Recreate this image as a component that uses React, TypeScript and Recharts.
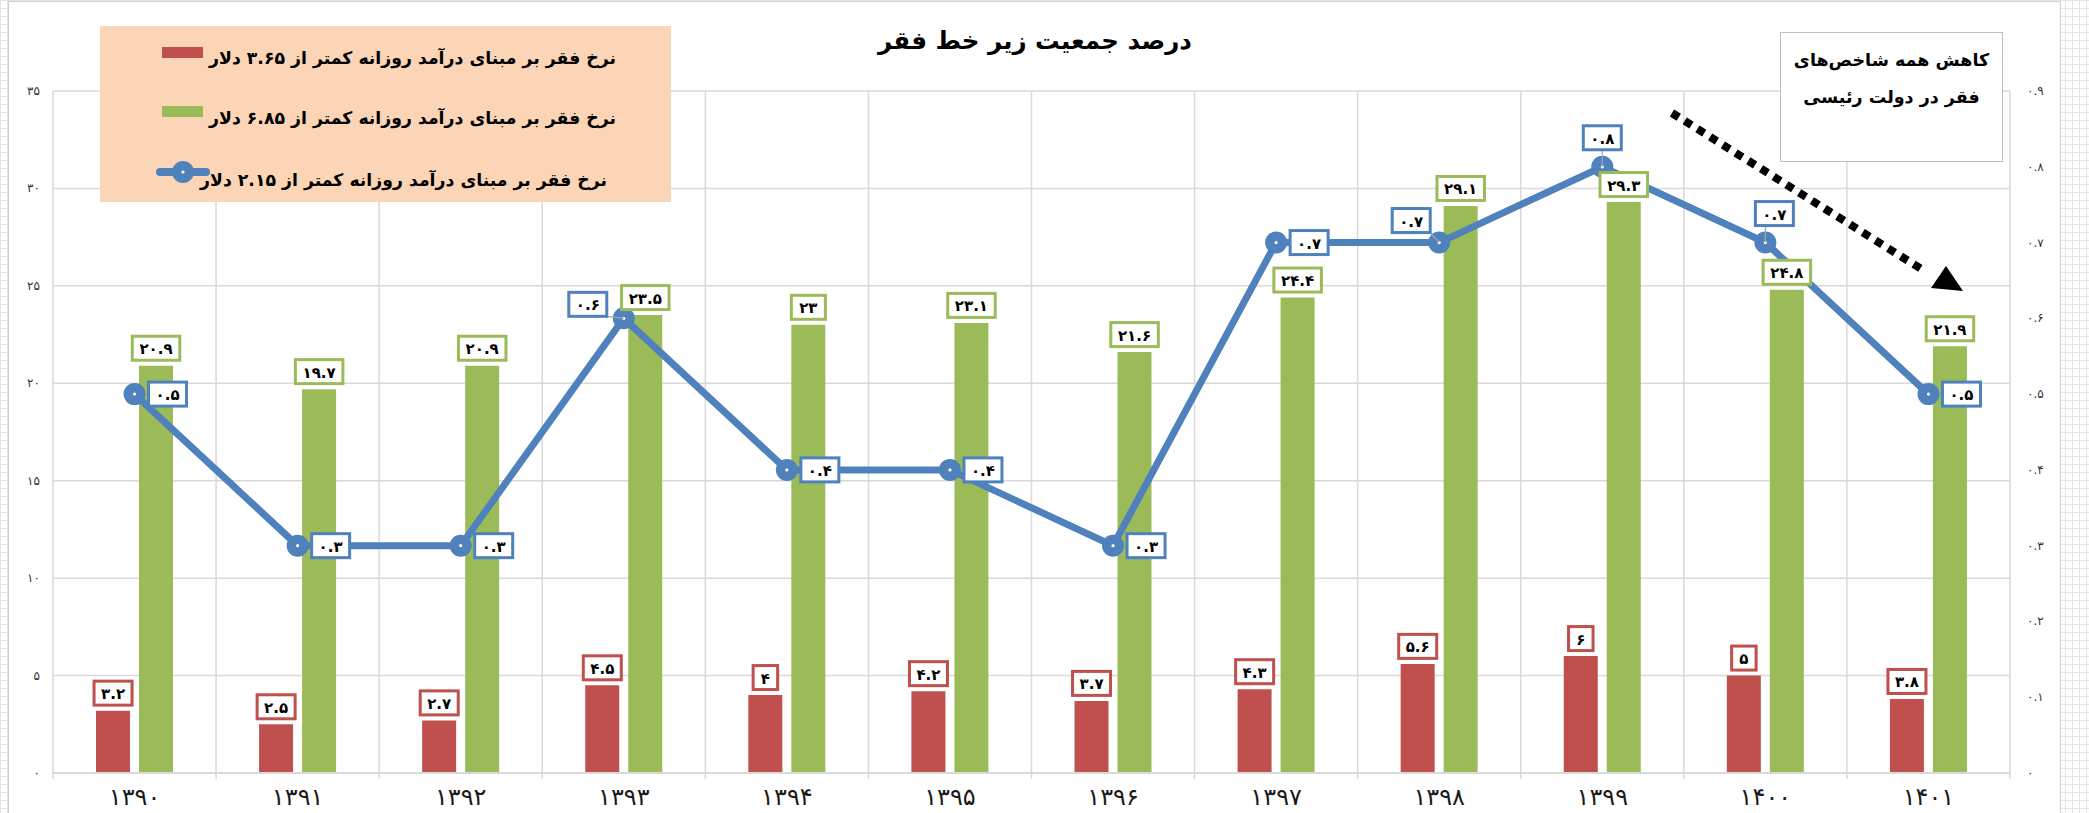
import React from 'react'
import {
  ComposedChart,
  Bar,
  Line,
  Scatter,
  XAxis,
  YAxis,
  CartesianGrid,
  LabelList,
} from 'recharts'

// values
const years = ['1390', '1391', '1392', '1393', '1394', '1395', '1396', '1397', '1398', '1399', '1400', '1401']
const rate365 = [3.2, 2.5, 2.7, 4.5, 4, 4.2, 3.7, 4.3, 5.6, 6, 5, 3.8]
const rate685 = [20.9, 19.7, 20.9, 23.5, 23, 23.1, 21.6, 24.4, 29.1, 29.3, 24.8, 21.9]
const rate215 = [0.5, 0.3, 0.3, 0.6, 0.4, 0.4, 0.3, 0.7, 0.7, 0.8, 0.7, 0.5]
const leftTicks = [0, 5, 10, 15, 20, 25, 30, 35]
const rightTicks = [0, 0.1, 0.2, 0.3, 0.4, 0.5, 0.6, 0.7, 0.8, 0.9]

const chartTitle = 'درصد جمعیت زیر خط فقر'
const legendLabels = [
  'نرخ فقر بر مبنای درآمد روزانه کمتر از ۳.۶۵ دلار',
  'نرخ فقر بر مبنای درآمد روزانه کمتر از ۶.۸۵ دلار',
  'نرخ فقر بر مبنای درآمد روزانه کمتر از ۲.۱۵ دلار',
]
const noteLines = ['کاهش همه شاخص‌های', 'فقر در دولت رئیسی']

const RED = '#C0504D'
const GREEN = '#9BBB59'
const BLUE = '#4F81BD'
const GRID = '#d9d9d9'
const FONT = '"DejaVu Sans", sans-serif'

const chartW = 2053
const chartH = 812
const leftAxisW = 45
const rightAxisW = 51
const xAxisH = 40
const plotTop = 90
const plotBottom = chartH - xAxisH
const band = (chartW - leftAxisW - rightAxisW) / years.length
const barSize = 34
const barGap = 9
const barShift = (barSize + barGap) / 2

// where the blue tags sit when not simply right of the point
const blueTagShift: Record<number, [number, number]> = {
  3: [-36, -14],
  8: [-28, -22],
  9: [0, -29],
  10: [9, -29],
}

const data = years.map((year, i) => ({
  year,
  r365: rate365[i],
  r685: rate685[i],
  r215: rate215[i],
}))

function fa(v: number | string): string {
  return String(v).replace(/\d/g, (d) => '۰۱۲۳۴۵۶۷۸۹'[Number(d)])
}

function tagWidth(text: string): number {
  const digits = text.replace(/[^۰-۹]/g, '').length
  const dots = text.length - digits
  return digits * 9.5 + dots * 4 + 15
}

function Tag({ cx, cy, text, color }: { cx: number; cy: number; text: string; color: string }) {
  const w = tagWidth(text)
  const h = 24
  return (
    <g>
      <rect x={cx - w / 2} y={cy - h / 2} width={w} height={h} fill="#fff" stroke={color} strokeWidth={3} />
      <text
        x={cx}
        y={cy + 1}
        textAnchor="middle"
        dominantBaseline="central"
        fontFamily={FONT}
        fontWeight="bold"
        fontSize={15}
        fill="#000"
      >
        {text}
      </text>
    </g>
  )
}

function barTag(color: string, shift: number, key: 'r365' | 'r685') {
  return (props: any) => {
    const { cx, cy, payload } = props
    if (cx == null || cy == null) return <g />
    return <Tag cx={cx + shift} cy={cy - 4 - 1.5 - 12} text={fa(payload[key])} color={color} />
  }
}

function BlueTag(props: any) {
  const { x, y, value, index } = props
  if (x == null || y == null) return null
  const shift = blueTagShift[index]
  if (!shift) return <Tag cx={x + 33} cy={y} text={fa(value)} color={BLUE} />
  const text = fa(value)
  const w = tagWidth(text)
  const bx = x + shift[0]
  const by = y + shift[1]
  const nx = Math.min(Math.max(x, bx - w / 2), bx + w / 2)
  const ny = Math.min(Math.max(y, by - 12), by + 12)
  return (
    <g>
      <line x1={nx} y1={ny} x2={x} y2={y} stroke="#a6a6a6" strokeWidth={1.2} />
      <Tag cx={bx} cy={by} text={text} color={BLUE} />
    </g>
  )
}

function BlueDot(props: any) {
  const { cx, cy, index } = props
  return (
    <g key={`dot-${index}`}>
      <circle cx={cx} cy={cy} r={11} fill={BLUE} />
      <circle cx={cx} cy={cy} r={1.6} fill="#fff" />
    </g>
  )
}

function YearTick(props: any) {
  const { x, payload, index } = props
  return (
    <g>
      <line x1={x - band / 2} y1={plotBottom} x2={x - band / 2} y2={plotBottom + 6} stroke={GRID} strokeWidth={1.5} />
      {index === years.length - 1 && (
        <line x1={x + band / 2} y1={plotBottom} x2={x + band / 2} y2={plotBottom + 6} stroke={GRID} strokeWidth={1.5} />
      )}
      <text
        x={x}
        y={plotBottom + 24}
        textAnchor="middle"
        dominantBaseline="central"
        fontFamily={FONT}
        fontSize={24}
        fill="#1a1a1a"
      >
        {fa(payload.value)}
      </text>
    </g>
  )
}

function LeftTick(props: any) {
  const { y, payload } = props
  return (
    <text x={32} y={y} textAnchor="end" dominantBaseline="central" fontFamily={FONT} fontSize={12} fill="#333">
      {fa(payload.value)}
    </text>
  )
}

function RightTick(props: any) {
  const { y, payload } = props
  return (
    <text x={chartW - rightAxisW + 17} y={y} textAnchor="start" dominantBaseline="central" fontFamily={FONT} fontSize={12} fill="#333">
      {fa(payload.value)}
    </text>
  )
}

function LegendBox() {
  const text: React.CSSProperties = {
    position: 'absolute',
    height: 30,
    lineHeight: '30px',
    fontFamily: FONT,
    fontWeight: 'bold',
    fontSize: 17.3,
    whiteSpace: 'nowrap',
    color: '#000',
  }
  return (
    <div style={{ position: 'absolute', left: 100, top: 26, width: 571, height: 176, background: '#FBD5B5' }}>
      <div style={{ position: 'absolute', left: 62, top: 21, width: 41, height: 11, background: RED }} />
      <div dir="rtl" style={{ ...text, right: 55, top: 17 }}>{legendLabels[0]}</div>
      <div style={{ position: 'absolute', left: 62, top: 80, width: 41, height: 11, background: GREEN }} />
      <div dir="rtl" style={{ ...text, right: 55, top: 77 }}>{legendLabels[1]}</div>
      <svg style={{ position: 'absolute', left: 56, top: 134 }} width={54} height={24}>
        <line x1={4} y1={12} x2={50} y2={12} stroke={BLUE} strokeWidth={8} strokeLinecap="round" />
        <circle cx={27} cy={12} r={11} fill={BLUE} />
        <circle cx={27} cy={12} r={1.6} fill="#fff" />
      </svg>
      <div dir="rtl" style={{ ...text, right: 64, top: 139 }}>{legendLabels[2]}</div>
    </div>
  )
}

export default function App() {
  return (
    <div
      style={{
        position: 'absolute',
        left: 0,
        top: 0,
        width: 2089,
        height: 813,
        overflow: 'hidden',
        backgroundColor: '#fff',
        backgroundImage:
          'linear-gradient(#e4e4e4 1px, transparent 1px), linear-gradient(90deg, #e4e4e4 1px, transparent 1px)',
        backgroundSize: '7px 8px',
      }}
    >
      <div
        style={{
          position: 'absolute',
          left: 8,
          top: 1,
          width: chartW,
          height: chartH + 10,
          background: '#fff',
          border: '1px solid #d0d0d0',
          boxSizing: 'border-box',
        }}
      />
      <div style={{ position: 'absolute', left: 8, top: 1 }}>
        <ComposedChart
          width={chartW}
          height={chartH}
          data={data}
          margin={{ top: plotTop, right: 0, bottom: 0, left: 0 }}
          barSize={barSize}
          barGap={barGap}
        >
          <CartesianGrid
            yAxisId="left"
            stroke={GRID}
            strokeWidth={1.5}
            verticalCoordinatesGenerator={({ offset }: any) =>
              Array.from({ length: years.length + 1 }, (_, i) => offset.left + (i * offset.width) / years.length)
            }
          />
          <XAxis
            dataKey="year"
            height={xAxisH}
            interval={0}
            axisLine={{ stroke: GRID, strokeWidth: 2 }}
            tickLine={false}
            tick={<YearTick />}
          />
          <YAxis
            yAxisId="left"
            orientation="left"
            width={leftAxisW}
            domain={[0, 35]}
            ticks={leftTicks}
            interval={0}
            axisLine={false}
            tickLine={false}
            tick={<LeftTick />}
          />
          <YAxis
            yAxisId="right"
            orientation="right"
            width={rightAxisW}
            domain={[0, 0.9]}
            ticks={rightTicks}
            interval={0}
            axisLine={false}
            tickLine={false}
            tick={<RightTick />}
          />
          <Bar yAxisId="left" dataKey="r365" fill={RED} isAnimationActive={false} />
          <Bar yAxisId="left" dataKey="r685" fill={GREEN} isAnimationActive={false} />
          <Line
            yAxisId="right"
            dataKey="r215"
            stroke={BLUE}
            strokeWidth={7}
            dot={BlueDot}
            activeDot={false}
            isAnimationActive={false}
          >
            <LabelList dataKey="r215" content={BlueTag} />
          </Line>
          <Scatter yAxisId="left" dataKey="r365" shape={barTag(RED, -barShift, 'r365')} isAnimationActive={false} />
          <Scatter yAxisId="left" dataKey="r685" shape={barTag(GREEN, barShift, 'r685')} isAnimationActive={false} />
        </ComposedChart>
      </div>

      <div
        style={{
          position: 'absolute',
          left: 735,
          top: 23,
          width: 600,
          height: 36,
          lineHeight: '36px',
          textAlign: 'center',
          fontFamily: FONT,
          fontWeight: 'bold',
          fontSize: 24.5,
          color: '#000',
        }}
        dir="rtl"
      >
        {chartTitle}
      </div>

      <LegendBox />

      <div
        style={{
          position: 'absolute',
          left: 1780,
          top: 32,
          width: 223,
          height: 130,
          background: '#fff',
          border: '1.5px solid #bfbfbf',
          boxSizing: 'border-box',
          fontFamily: FONT,
          fontWeight: 'bold',
          fontSize: 17.5,
          textAlign: 'center',
          color: '#000',
        }}
        dir="rtl"
      >
        <div style={{ position: 'absolute', left: 0, right: 0, top: 9, lineHeight: '37px' }}>
          {noteLines.map((l) => (
            <div key={l}>{l}</div>
          ))}
        </div>
      </div>

      <svg style={{ position: 'absolute', left: 0, top: 0, pointerEvents: 'none' }} width={2089} height={813}>
        <line x1={1672} y1={113} x2={1926} y2={272} stroke="#000" strokeWidth={8} strokeDasharray="8 7" />
        <polygon points="1931,288 1946,266 1963,291" fill="#000" />
      </svg>
    </div>
  )
}
